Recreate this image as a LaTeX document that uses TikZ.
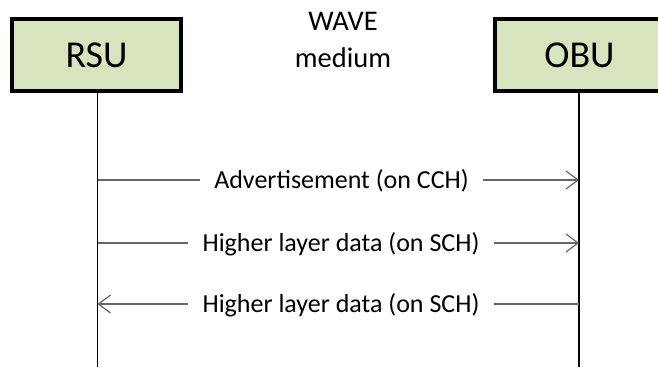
\documentclass[tikz,border=0pt]{standalone}
\usepackage{fontspec}
\setmainfont{Carlito}
\usetikzlibrary{arrows.meta}
\definecolor{boxgreen}{HTML}{D7E4BD}
\tikzset{
  entity/.style={draw=black, line width=4pt, fill=boxgreen, minimum width=169pt, minimum height=72pt, inner sep=0pt, font=\fontsize{38}{40}\selectfont},
  lifeline/.style={draw=black, line width=1.3pt},
  msg/.style={draw=black!60, line width=1.4pt},
  msglabel/.style={font=\fontsize{26}{28}\selectfont, inner xsep=14pt, inner ysep=0pt, text height=16.5pt, text depth=0pt},
  tip/.style={-{Straight Barb[length=12pt, width=18pt, line width=1.2pt]}}
}
\begin{document}
\begin{tikzpicture}[x=1pt, y=-1pt]
\useasboundingbox (0,0) rectangle (658,367);
\node[entity] (rsu) at (96.5,55) {RSU};
\node[entity] (obu) at (579.5,55) {OBU};
\node[font=\fontsize{28.5}{37}\selectfont, align=center, anchor=base] (wave) at (343,67) {WAVE\\medium};
\coordinate (rb) at (97.5,367);
\coordinate (ob) at (579,367);
\draw[lifeline] (rsu.south -| rb) -- (rb);
\draw[lifeline] (obu.south -| ob) -- (ob);
% messages
\coordinate (r1) at (97.5,180);
\coordinate (o1) at (579,180);
\coordinate (r2) at (97.5,243);
\coordinate (o2) at (579,243);
\coordinate (r3) at (97.5,304);
\coordinate (o3) at (579,304);
\node[msglabel] (m1) at (341.5,180) {Advertisement (on CCH)};
\node[msglabel] (m2) at (341,243) {Higher layer data (on SCH)};
\node[msglabel] (m3) at (341,304) {Higher layer data (on SCH)};
\draw[msg] (r1) -- (m1.west);
\draw[msg, tip] (m1.east) -- (o1);
\draw[msg] (r2) -- (m2.west);
\draw[msg, tip] (m2.east) -- (o2);
\draw[msg, tip] (m3.west) -- (r3);
\draw[msg] (o3) -- (m3.east);
\end{tikzpicture}
\end{document}
